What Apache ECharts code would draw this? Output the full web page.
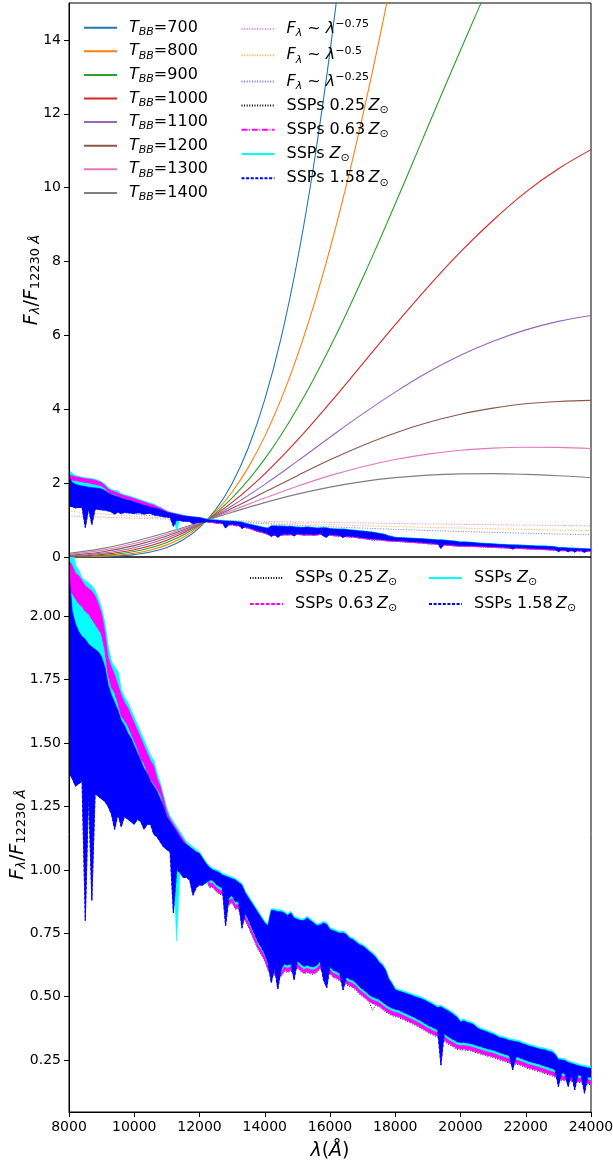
<!DOCTYPE html>
<html><head><meta charset="utf-8">
<script src="https://cdn.jsdelivr.net/npm/echarts@6/dist/echarts.min.js"></script>
<style>html,body{margin:0;padding:0;background:#fff}#c{width:613px;height:1162px}</style>
</head><body><div id="c"></div>
<script>
// ---------- DATA ----------
const wave = [
8000,8100,8200,8300,8400,8500,8600,8700,8800,8900,
9000,9100,9200,9300,9400,9500,9600,9700,9800,9900,
10000,10100,10200,10300,10400,10500,10600,10700,10800,10900,
11000,11100,11200,11300,11400,11500,11600,11700,11800,11900,
12000,12100,12200,12300,12400,12500,12600,12700,12800,12900,
13000,13100,13200,13300,13400,13500,13600,13700,13800,13900,
14000,14100,14200,14300,14400,14500,14600,14700,14800,14900,
15000,15100,15200,15300,15400,15500,15600,15700,15800,15900,
16000,16100,16200,16300,16400,16500,16600,16700,16800,16900,
17000,17100,17200,17300,17400,17500,17600,17700,17800,17900,
18000,18100,18200,18300,18400,18500,18600,18700,18800,18900,
19000,19100,19200,19300,19400,19500,19600,19700,19800,19900,
20000,20100,20200,20300,20400,20500,20600,20700,20800,20900,
21000,21100,21200,21300,21400,21500,21600,21700,21800,21900,
22000,22100,22200,22300,22400,22500,22600,22700,22800,22900,
23000,23100,23200,23300,23400,23500,23600,23700,23800,23900,
24000];

// SSPs 0.25 Zsun (black dotted)
const ssp025 = [
2.17,2.145,2.12,2.105,2.09,2.07,2.06,2.045,2.025,2.0,
1.97,1.905,1.805,1.76,1.735,1.695,1.65,1.625,1.605,1.575,
1.545,1.515,1.48,1.455,1.425,1.395,1.375,1.34,1.315,1.27,
1.225,1.195,1.175,1.155,1.135,1.115,1.095,1.085,1.075,1.065,
1.055,1.035,1.0,0.93,0.93,0.915,0.905,0.90,0.885,0.86,
0.87,0.845,0.845,0.80,0.80,0.775,0.745,0.715,0.685,0.665,
0.64,0.605,0.58,0.585,0.58,0.578,0.60,0.595,0.60,0.595,
0.612,0.60,0.59,0.595,0.59,0.588,0.595,0.61,0.59,0.585,
0.59,0.575,0.57,0.562,0.555,0.548,0.54,0.535,0.525,0.51,
0.50,0.49,0.478,0.447,0.465,0.46,0.45,0.44,0.432,0.425,
0.421,0.418,0.412,0.406,0.40,0.394,0.388,0.381,0.374,0.366,
0.358,0.352,0.346,0.34,0.333,0.325,0.315,0.307,0.30,0.292,
0.29,0.29,0.288,0.286,0.282,0.278,0.274,0.27,0.266,0.263,
0.26,0.255,0.25,0.246,0.242,0.237,0.235,0.234,0.23,0.225,
0.22,0.215,0.212,0.208,0.205,0.20,0.196,0.192,0.188,0.182,
0.172,0.17,0.168,0.166,0.165,0.163,0.162,0.16,0.157,0.155,
0.152];

// SSPs 0.63 Zsun (magenta) visible extent: upper / lower
const ssp063Upper = [
2.22,2.20,2.17,2.16,2.14,2.12,2.11,2.10,2.08,2.05,
2.01,1.94,1.84,1.80,1.77,1.73,1.69,1.66,1.64,1.61,
1.58,1.55,1.52,1.49,1.46,1.43,1.41,1.36,1.33,1.28,
1.23,1.20,1.18,1.16,1.14,1.12,1.10,1.09,1.08,1.07,
1.06,1.04,1.01,0.947,0.947,0.932,0.922,0.917,0.902,0.877,
0.887,0.862,0.862,0.817,0.817,0.792,0.762,0.732,0.702,0.682,
0.657,0.622,0.597,0.602,0.597,0.595,0.617,0.612,0.617,0.612,
0.629,0.617,0.607,0.612,0.607,0.605,0.612,0.627,0.607,0.602,
0.607,0.592,0.587,0.579,0.572,0.565,0.557,0.552,0.542,0.527,
0.517,0.507,0.495,0.487,0.482,0.477,0.467,0.457,0.449,0.442,
0.438,0.435,0.429,0.423,0.417,0.411,0.405,0.398,0.391,0.383,
0.375,0.369,0.363,0.357,0.35,0.342,0.332,0.324,0.317,0.309,
0.307,0.307,0.305,0.303,0.299,0.295,0.291,0.287,0.283,0.28,
0.277,0.272,0.267,0.263,0.259,0.254,0.252,0.251,0.247,0.242,
0.237,0.232,0.229,0.225,0.222,0.217,0.213,0.209,0.205,0.199,
0.189,0.187,0.185,0.183,0.182,0.18,0.179,0.177,0.174,0.172,
0.169];
const ssp063Lower = [
2.12,2.09,2.07,2.05,2.04,2.02,2.01,1.99,1.97,1.95,
1.93,1.87,1.77,1.72,1.70,1.66,1.61,1.59,1.57,1.54,
1.51,1.48,1.44,1.42,1.39,1.36,1.34,1.32,1.30,1.26,
1.22,1.19,1.17,1.15,1.13,1.11,1.09,1.08,1.07,1.06,
1.05,1.03,0.99,0.934,0.934,0.919,0.909,0.904,0.889,0.864,
0.874,0.849,0.849,0.804,0.804,0.779,0.749,0.719,0.689,0.669,
0.644,0.609,0.584,0.589,0.584,0.582,0.604,0.599,0.604,0.599,
0.616,0.604,0.594,0.599,0.594,0.592,0.599,0.614,0.594,0.589,
0.594,0.579,0.574,0.566,0.559,0.552,0.544,0.539,0.529,0.514,
0.504,0.494,0.482,0.474,0.469,0.464,0.454,0.444,0.436,0.429,
0.425,0.422,0.416,0.41,0.404,0.398,0.392,0.385,0.378,0.37,
0.362,0.356,0.35,0.344,0.337,0.329,0.319,0.311,0.304,0.296,
0.294,0.294,0.292,0.29,0.286,0.282,0.278,0.274,0.27,0.267,
0.264,0.259,0.254,0.25,0.246,0.241,0.239,0.238,0.234,0.229,
0.224,0.219,0.216,0.212,0.209,0.204,0.20,0.196,0.192,0.186,
0.176,0.174,0.172,0.17,0.169,0.167,0.166,0.164,0.161,0.159,
0.156];

// SSPs Zsun (cyan) visible extent
const ssp100Upper = [
2.35,2.26,2.20,2.18,2.15,2.14,2.13,2.12,2.10,2.07,
2.03,1.97,1.88,1.82,1.80,1.78,1.71,1.68,1.66,1.63,
1.60,1.57,1.54,1.51,1.48,1.45,1.43,1.38,1.34,1.29,
1.24,1.21,1.19,1.17,1.15,1.13,1.11,1.10,1.09,1.08,
1.07,1.05,1.03,1.016,1.006,1.001,0.996,0.986,0.981,0.976,
0.971,0.966,0.956,0.946,0.916,0.896,0.876,0.856,0.836,0.816,
0.796,0.786,0.846,0.846,0.841,0.841,0.836,0.826,0.836,0.816,
0.811,0.806,0.806,0.816,0.806,0.796,0.786,0.789,0.796,0.791,
0.771,0.766,0.761,0.756,0.758,0.751,0.736,0.731,0.721,0.711,
0.706,0.696,0.684,0.674,0.661,0.642,0.631,0.611,0.576,0.556,
0.533,0.528,0.524,0.52,0.515,0.511,0.506,0.502,0.498,0.492,
0.485,0.478,0.471,0.463,0.466,0.458,0.451,0.443,0.434,0.424,
0.406,0.411,0.404,0.401,0.396,0.384,0.376,0.372,0.368,0.362,
0.358,0.351,0.344,0.342,0.338,0.333,0.331,0.328,0.326,0.32,
0.316,0.311,0.308,0.304,0.30,0.298,0.296,0.291,0.288,0.278,
0.258,0.256,0.254,0.246,0.242,0.238,0.234,0.23,0.228,0.225,
0.223];
const ssp100Lower = [
1.38,1.36,1.34,1.34,1.35,1.33,1.31,1.31,1.30,1.29,
1.28,1.27,1.25,1.22,1.21,1.22,1.20,1.21,1.20,1.19,
1.18,1.20,1.19,1.17,1.18,1.18,1.14,1.13,1.11,1.09,
1.08,1.07,1.02,0.72,0.99,0.97,0.97,0.96,0.94,0.93,
0.94,0.94,0.95,0.934,0.934,0.919,0.909,0.904,0.889,0.864,
0.874,0.849,0.849,0.804,0.804,0.779,0.749,0.719,0.689,0.669,
0.644,0.609,0.584,0.589,0.584,0.582,0.604,0.599,0.604,0.599,
0.616,0.604,0.594,0.599,0.594,0.592,0.599,0.614,0.594,0.589,
0.594,0.579,0.574,0.566,0.559,0.552,0.544,0.539,0.529,0.514,
0.504,0.494,0.482,0.474,0.469,0.464,0.454,0.444,0.436,0.429,
0.425,0.422,0.416,0.41,0.404,0.398,0.392,0.385,0.378,0.37,
0.362,0.356,0.35,0.344,0.337,0.329,0.319,0.311,0.304,0.296,
0.294,0.294,0.292,0.29,0.286,0.282,0.278,0.274,0.27,0.267,
0.264,0.259,0.254,0.25,0.246,0.241,0.239,0.238,0.234,0.229,
0.224,0.219,0.216,0.212,0.209,0.204,0.20,0.196,0.192,0.186,
0.176,0.174,0.172,0.17,0.169,0.167,0.166,0.164,0.161,0.159,
0.156];

// SSPs 1.58 Zsun (blue) extent
const ssp158Upper = [
2.18,2.02,1.97,1.94,1.92,1.91,1.89,1.88,1.87,1.86,
1.84,1.80,1.73,1.69,1.66,1.63,1.59,1.57,1.54,1.52,
1.49,1.46,1.43,1.40,1.38,1.35,1.33,1.31,1.28,1.25,
1.21,1.19,1.17,1.15,1.13,1.11,1.10,1.09,1.08,1.07,
1.065,1.045,1.025,1.01,1.00,0.995,0.99,0.98,0.975,0.97,
0.965,0.96,0.95,0.94,0.91,0.89,0.87,0.85,0.83,0.81,
0.79,0.78,0.84,0.84,0.835,0.835,0.83,0.82,0.83,0.81,
0.805,0.80,0.80,0.81,0.80,0.79,0.78,0.783,0.79,0.785,
0.765,0.76,0.755,0.75,0.752,0.745,0.73,0.725,0.715,0.705,
0.70,0.69,0.678,0.668,0.655,0.636,0.625,0.605,0.57,0.55,
0.527,0.522,0.518,0.514,0.509,0.505,0.50,0.496,0.492,0.486,
0.479,0.472,0.465,0.457,0.46,0.452,0.445,0.437,0.428,0.418,
0.40,0.405,0.398,0.395,0.39,0.378,0.37,0.366,0.362,0.356,
0.352,0.345,0.338,0.336,0.332,0.327,0.325,0.322,0.32,0.314,
0.31,0.305,0.302,0.298,0.294,0.292,0.29,0.285,0.282,0.272,
0.252,0.25,0.248,0.24,0.236,0.232,0.228,0.224,0.222,0.219,
0.217];
const ssp158Lower = [
1.38,1.36,1.33,1.34,1.35,0.80,1.31,0.88,1.30,1.29,
1.28,1.27,1.25,1.22,1.16,1.22,1.17,1.21,1.20,1.19,
1.18,1.20,1.19,1.16,1.18,1.18,1.14,1.13,1.11,1.09,
1.08,1.07,0.83,1.00,0.99,0.97,0.97,0.96,0.90,0.93,
0.94,0.94,0.95,0.96,0.96,0.945,0.935,0.93,0.78,0.89,
0.90,0.875,0.875,0.77,0.83,0.805,0.775,0.745,0.715,0.695,
0.67,0.635,0.555,0.615,0.53,0.608,0.63,0.625,0.63,0.566,
0.642,0.63,0.62,0.625,0.62,0.618,0.625,0.64,0.566,0.535,
0.62,0.605,0.60,0.592,0.526,0.578,0.57,0.565,0.555,0.54,
0.53,0.52,0.508,0.50,0.495,0.49,0.48,0.47,0.462,0.455,
0.451,0.448,0.442,0.436,0.43,0.424,0.418,0.411,0.404,0.396,
0.388,0.382,0.376,0.37,0.23,0.355,0.345,0.337,0.33,0.322,
0.32,0.32,0.318,0.316,0.312,0.308,0.304,0.30,0.296,0.293,
0.29,0.285,0.28,0.276,0.272,0.267,0.211,0.264,0.26,0.255,
0.25,0.245,0.242,0.238,0.235,0.23,0.226,0.222,0.218,0.212,
0.145,0.20,0.198,0.145,0.195,0.132,0.192,0.19,0.119,0.185,
0.182];

// Blackbodies normalised at 12230 A
const bbWaveFine = [8000,8500,9000,9500,10000,10500,11000,11500,12000,12500,13000,13500,14000,14500,15000,15500,16000,16500,17000,17500,18000,18500,19000,19500,20000,20500,21000];
const bbWave = [8000,9000,10000,11000,12000,13000,14000,15000,16000,17000,18000,19000,20000,21000,22000,23000,24000];
const bb700  = [0.00115,0.00387,0.0111,0.02826,0.0645,0.1345,0.2595,0.4682,0.7968,1.2897,1.993,2.964,4.260,5.929,8.028,10.60,13.69,17.31,21.53];
const bb800  = [0.0035,0.00972,0.0236,0.0517,0.1030,0.1901,0.3281,0.5350,0.8295,1.2323,1.760,2.433,3.266,4.267,5.445,6.805,8.345,10.06,11.94,13.97,16.15,18.44];
const bb900  = [0.0083,0.0199,0.0425,0.0827,0.1484,0.2488,0.3938,0.5935,0.8558,1.1896,1.598,2.086,2.657,3.304,4.028,4.821,5.678,6.589,7.550,8.542,9.563,10.60,11.65,12.69,13.72,14.74,15.74];
const bb1000 = [0.0166,0.0679,0.1986,0.4558,0.8776,1.479,2.252,3.163,4.173,5.230,6.289,7.310,8.26,9.118,9.88,10.51,11.03];
const bb1100 = [0.0292,0.0997,0.2520,0.5138,0.8957,1.388,1.967,2.596,3.243,3.874,4.464,5.00,5.46,5.84,6.15,6.38,6.54];
const bb1200 = [0.0468,0.1373,0.3074,0.5676,0.9112,1.317,1.757,2.203,2.63,3.02,3.36,3.64,3.865,4.03,4.15,4.21,4.24];
const bb1300 = [0.0698,0.1801,0.3636,0.6176,0.9244,1.259,1.597,1.917,2.203,2.446,2.64,2.786,2.889,2.948,2.973,2.967,2.937];
const bb1400 = [0.0982,0.2271,0.4200,0.6639,0.9360,1.212,1.473,1.703,1.893,2.042,2.148,2.217,2.251,2.257,2.238,2.200,2.147];
const bbTemps = [700,800,900,1000,1100,1200,1300,1400];

// Power laws
const plWave = [8000,10000,12000,14000,16000,18000,20000,22000,24000];
const plPink   = [1.112,1.052,1.0047,0.967,0.935,0.908,0.884,0.863,0.845];
const plOrange = [1.236,1.106,1.0095,0.935,0.874,0.824,0.782,0.746,0.714];
const plBlue   = [1.375,1.163,1.014,0.904,0.818,0.749,0.691,0.643,0.603];
const plExponents = ['0.75','0.5','0.25'];

// Ticks
const xTicks = [8000,10000,12000,14000,16000,18000,20000,22000,24000];
const yTicksTop = [0,2,4,6,8,10,12,14];
const yTicksBottom = [0.25,0.5,0.75,1.0,1.25,1.5,1.75,2.0];

// ---------- CHART ----------
const FF = 'DejaVu Sans';
const bbColors = ['#1f77b4','#ff7f0e','#2ca02c','#d62728','#9467bd','#8c564b','#e377c2','#7f7f7f'];
const bbData = [bb700,bb800,bb900,bb1000,bb1100,bb1200,bb1300,bb1400];
const bbGrid = [bbWaveFine,bbWaveFine,bbWaveFine,bbWave,bbWave,bbWave,bbWave,bbWave];
const plColors = ['#f07cf0','#ffb040','#7373ff'];
const plData = [plPink, plOrange, plBlue];

function pairs(xs, ys){ return ys.map((y,i)=>[xs[i], y]); }

const LBL = {};
const series = [];
bbTemps.forEach((T,k)=>{
  const nm = 'bb'+T;
  LBL[nm] = '{t|T}{s|BB}{n|='+T+'}';
  series.push({name:nm, type:'line', xAxisIndex:0, yAxisIndex:0, data:pairs(bbGrid[k],bbData[k]), z:2,
    smooth:0.4, symbol:'none', lineStyle:{color:bbColors[k], width:1.1}, itemStyle:{color:bbColors[k]}, silent:true});
});
plExponents.forEach((e,k)=>{
  const nm = 'pl'+k;
  LBL[nm] = '{t|F}{s|λ}{n| ~ }{t|λ}{p|−'+e+'}';
  series.push({name:nm, type:'line', xAxisIndex:0, yAxisIndex:0, data:pairs(plWave,plData[k]), z:2,
    smooth:0.3, symbol:'none', lineStyle:{color:plColors[k], width:1, type:[1,1.6]}, itemStyle:{color:plColors[k]}, silent:true});
});

// filled band between an upper and a lower spectrum envelope (custom series, library coords)
function addBand(g, hi, lo, color, z){
  series.push({type:'custom', xAxisIndex:g, yAxisIndex:g, silent:true, z:z,
    data: wave.map((w,i)=>[w, hi[i], lo[i]]), encode:{x:0, y:[1,2]},
    renderItem:function(params, api){
      if (params.dataIndex !== 0) return null;
      const pts = [];
      for (let i=0;i<wave.length;i++) pts.push(api.coord([wave[i], hi[i]]));
      for (let i=wave.length-1;i>=0;i--) pts.push(api.coord([wave[i], lo[i]]));
      const cs = params.coordSys;
      return {type:'polygon', shape:{points:pts}, style:{fill:color, stroke:color, lineWidth:0.6},
        clipPath:{type:'rect', shape:{x:cs.x, y:cs.y, width:cs.width, height:cs.height}}};
    }});
}
function addSSP(g, suf, magDash){
  LBL['s025'+suf] = '{n|SSPs 0.25\u2009}{t|Z}{u|⊙}';
  LBL['s063'+suf] = '{n|SSPs 0.63\u2009}{t|Z}{u|⊙}';
  LBL['s100'+suf] = '{n|SSPs }{t|Z}{u|⊙}';
  LBL['s158'+suf] = '{n|SSPs 1.58\u2009}{t|Z}{u|⊙}';
  series.push({name:'s025'+suf, type:'line', xAxisIndex:g, yAxisIndex:g, data:pairs(wave,ssp025), symbol:'none', z:3,
    lineStyle:{color:'#000', width:1, type:[1,1.6]}, itemStyle:{color:'#000'}, silent:true});
  addBand(g, ssp100Upper, ssp100Lower, '#00ffff', 4);
  series.push({name:'s100'+suf, type:'line', xAxisIndex:g, yAxisIndex:g, data:pairs(wave,ssp100Upper), symbol:'none', z:5,
    lineStyle:{color:'#00ffff', width:1}, itemStyle:{color:'#00ffff'}, silent:true});
  addBand(g, ssp063Upper, ssp063Lower, '#ff00ff', 6);
  series.push({name:'s063'+suf, type:'line', xAxisIndex:g, yAxisIndex:g, data:pairs(wave,ssp063Lower), symbol:'none', z:7,
    lineStyle:{color:'#ff00ff', width:1, type:magDash}, itemStyle:{color:'#ff00ff'}, silent:true});
  addBand(g, ssp158Upper, ssp158Lower, '#0000ff', 8);
  series.push({name:'s158'+suf, type:'line', xAxisIndex:g, yAxisIndex:g, data:pairs(wave,ssp158Lower), symbol:'none', z:9,
    lineStyle:{color:'#0000ff', width:1, type:[3,1.6]}, itemStyle:{color:'#0000ff'}, silent:true});
}
addSSP(0,'', [6,1.6,1,1.6]);
addSSP(1,'b',[3.7,1.6]);

const legRich = {
  t:{fontFamily:FF,fontSize:16,fontStyle:'italic',lineHeight:20,color:'#000'},
  n:{fontFamily:FF,fontSize:16,lineHeight:20,color:'#000'},
  s:{fontFamily:FF,fontSize:11,fontStyle:'italic',verticalAlign:'bottom',color:'#000'},
  u:{fontFamily:FF,fontSize:11,verticalAlign:'bottom',color:'#000'},
  p:{fontFamily:FF,fontSize:11,verticalAlign:'top',color:'#000'}
};
function mkLegend(names, left, top, gap){
  return {data:names, orient:'vertical', left:left, top:top, padding:0, itemGap:gap, itemWidth:33, itemHeight:10, z:20,
    itemStyle:{opacity:0}, selectedMode:false, formatter:n=>LBL[n],
    textStyle:{fontFamily:FF,fontSize:16,color:'#000',padding:[0,0,0,7],rich:legRich}};
}

const axRich = {
  t:{fontFamily:FF,fontSize:19,fontStyle:'italic',color:'#000'},
  n:{fontFamily:FF,fontSize:19,color:'#000'},
  s:{fontFamily:FF,fontSize:13,fontStyle:'italic',verticalAlign:'bottom',color:'#000'},
  u:{fontFamily:FF,fontSize:13,verticalAlign:'bottom',color:'#000'}
};
const yName = '{t|F}{s|λ}{n|/}{t|F}{u|12230 }{s|Å}';
const tickLab = {fontFamily:FF, fontSize:14, color:'#000', margin:8};
function yAxisCfg(g, min, max, ticks, fmt, gap){
  return {gridIndex:g, type:'value', min:min, max:max, z:15,
    axisLine:{show:true, lineStyle:{color:'#000', width:1}},
    axisTick:{show:true, length:5, inside:false, customValues:ticks, lineStyle:{color:'#000', width:1}},
    axisLabel:Object.assign({customValues:ticks, formatter:fmt}, tickLab),
    splitLine:{show:false},
    name:yName, nameLocation:'middle', nameRotate:90, nameGap:gap, nameMoveOverlap:false,
    nameTextStyle:{rich:axRich, fontFamily:FF, fontSize:19, color:'#000'}};
}

const option = {
  animation:false,
  backgroundColor:'#ffffff',
  grid:[
    {left:69, top:3, width:522, height:554, show:true, borderColor:'#000', borderWidth:1, backgroundColor:'rgba(0,0,0,0)', outerBoundsMode:'none', containLabel:false},
    {left:69, top:557, width:522, height:555, show:true, borderColor:'#000', borderWidth:1, backgroundColor:'rgba(0,0,0,0)', outerBoundsMode:'none', containLabel:false}
  ],
  xAxis:[
    {gridIndex:0, type:'value', min:8000, max:24000, interval:2000, axisLine:{show:false}, axisTick:{show:false}, axisLabel:{show:false}, splitLine:{show:false}},
    {gridIndex:1, type:'value', min:8000, max:24000, interval:2000, z:15,
      axisLine:{show:true, lineStyle:{color:'#000', width:1}},
      axisTick:{show:true, length:5, customValues:xTicks, lineStyle:{color:'#000', width:1}},
      axisLabel:Object.assign({customValues:xTicks, formatter:v=>String(v)}, tickLab),
      splitLine:{show:false},
      name:'{t|λ}{n|(}{t|Å}{n|)}', nameLocation:'middle', nameGap:30, nameMoveOverlap:false,
      nameTextStyle:{rich:axRich, fontFamily:FF, fontSize:19, color:'#000'}}
  ],
  yAxis:[
    yAxisCfg(0, 0, 15, yTicksTop, v=>String(v), 27),
    yAxisCfg(1, 0.045, 2.234, yTicksBottom, v=>v.toFixed(2), 41)
  ],
  legend:[
    mkLegend(bbTemps.map(T=>'bb'+T), 83, 19.7, 5.6),
    mkLegend(['pl0','pl1','pl2','s025','s063','s100','s158'], 240.5, 19, 6.2),
    mkLegend(['s025b','s063b'], 249, 570, 8),
    mkLegend(['s100b','s158b'], 428, 570, 8)
  ],
  series:series
};
const chart = echarts.init(document.getElementById('c'), null, {renderer:'canvas'});
chart.setOption(option);
</script>
</body></html>
